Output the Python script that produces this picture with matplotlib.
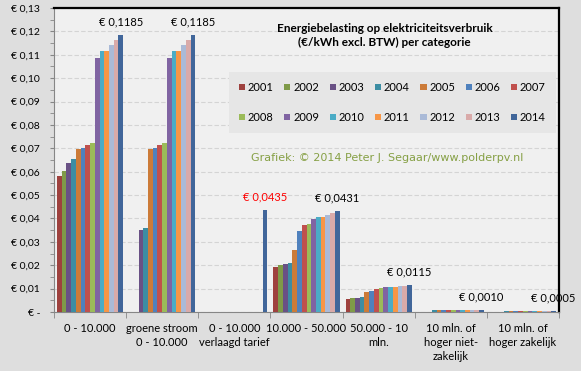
import numpy as np
import matplotlib.pyplot as plt
from matplotlib.ticker import MultipleLocator, FixedLocator, FuncFormatter

plt.rcParams['font.family'] = ['Lato', 'DejaVu Sans']

# Categorieen en jaren
categories = ['0 - 10.000', 'groene stroom\n0 - 10.000', '0 - 10.000\nverlaagd tarief',
              '10.000 - 50.000', '50.000 - 10\nmln.', '10 mln. of\nhoger niet-\nzakelijk',
              '10 mln. of\nhoger zakelijk']
years = [str(y) for y in range(2001, 2015)]

# Tarieven per jaar (kolommen = categorieen)
t_0_10k = [0.0583, 0.0601, 0.0639, 0.0654, 0.0699, 0.0702, 0.0716,
           0.0724, 0.1085, 0.1114, 0.1117, 0.1140, 0.1165, 0.1185]
t_groen = [0, 0, 0.0350, 0.0358, 0.0699, 0.0702, 0.0716,
           0.0724, 0.1085, 0.1114, 0.1117, 0.1140, 0.1165, 0.1185]
t_verlaagd = [0, 0, 0, 0, 0, 0, 0, 0, 0, 0, 0, 0, 0, 0.0435]
t_10k_50k = [0.0194, 0.0200, 0.0207, 0.0210, 0.0263, 0.0345, 0.0370,
             0.0375, 0.0397, 0.0405, 0.0408, 0.0414, 0.0423, 0.0431]
t_50k_10m = [0.0057, 0.0060, 0.0061, 0.0065, 0.0086, 0.0091, 0.0099,
             0.0102, 0.0105, 0.0108, 0.0108, 0.0110, 0.0113, 0.0115]
t_10m_niet = [0, 0, 0, 0.0010, 0.0010, 0.0010, 0.0010,
              0.0010, 0.0010, 0.0010, 0.0010, 0.0010, 0.0010, 0.0010]
t_10m_zak = [0, 0, 0, 0.0005, 0.0005, 0.0005, 0.0005,
             0.0005, 0.0005, 0.0005, 0.0005, 0.0005, 0.0005, 0.0005]

labels_2014 = ['€ 0,1185', '€ 0,1185', '€ 0,0435', '€ 0,0431', '€ 0,0115', '€ 0,0010', '€ 0,0005']
label_colors = ['black', 'black', 'red', 'black', 'black', 'black', 'black']

colors = ['#9E413E', '#7F9A48', '#695185', '#3C8DA3', '#CC7B38', '#4F81BD', '#C0504D',
          '#9BBB59', '#8064A2', '#4BACC6', '#F79646', '#AABAD7', '#D9AAA9', '#41669A']

data = np.array([t_0_10k, t_groen, t_verlaagd, t_10k_50k, t_50k_10m, t_10m_niet, t_10m_zak])

fig = plt.figure(figsize=(5.81, 3.71), dpi=100)
fig.patch.set_facecolor('#dedede')
ax = fig.add_axes([54 / 581, 1 - 312 / 371, 505 / 581, 304 / 371])
ax.set_facecolor('#f0f0f0')

x = np.arange(len(categories))
w = 0.917 / len(years)
for k, yr in enumerate(years):
    ax.bar(x + (k - 6.5) * w, data[:, k], width=w, color=colors[k], label=yr, zorder=3)

# waarde-labels boven de 2014 staaf
for i in range(len(categories)):
    ax.annotate(labels_2014[i], (x[i] + 6.5 * w, data[i, -1]), xytext=(0, 13),
                textcoords='offset pixels', ha='center', va='center',
                fontsize=8, color=label_colors[i], zorder=5)

ax.set_xlim(-0.5, len(categories) - 0.5)
ax.set_ylim(0, 0.13)

ax.yaxis.set_major_locator(MultipleLocator(0.01))
ax.yaxis.set_minor_locator(MultipleLocator(0.005))
ax.yaxis.set_major_formatter(FuncFormatter(
    lambda v, p: '€ -' if abs(v) < 1e-9 else '€ ' + ('%.2f' % v).replace('.', ',')))
ax.tick_params(axis='y', which='both', length=3, color='#868686', labelsize=7.5, pad=7)

ax.set_xticks(x)
ax.set_xticklabels(categories, fontsize=8, linespacing=1.35)
ax.xaxis.set_minor_locator(FixedLocator(np.arange(len(categories) + 1) - 0.5))
ax.tick_params(axis='x', which='major', length=0, pad=8)
ax.tick_params(axis='x', which='minor', length=4, color='#868686')

ax.grid(axis='y', which='major', color='#d4d4d4', linestyle=(0, (4, 2)), linewidth=0.8, zorder=0)

for s in ['left', 'bottom']:
    ax.spines[s].set_color('#868686')
for s in ['top', 'right']:
    ax.spines[s].set_color('black')
    ax.spines[s].set_linewidth(1.6)

ax.text(0.655, 0.95, 'Energiebelasting op elektriciteitsverbruik\n(€/kWh excl. BTW) per categorie',
        transform=ax.transAxes, ha='center', va='top', fontsize=8.5, fontweight='bold',
        linespacing=1.35)

ax.text(0.66, 0.505, 'Grafiek: © 2014 Peter J. Segaar/www.polderpv.nl', transform=ax.transAxes,
        ha='center', va='center', fontsize=8, color='#86A045', family='DejaVu Sans')

# legenda rij voor rij: matplotlib vult kolom voor kolom, dus volgorde omzetten
handles, labs = ax.get_legend_handles_labels()
order = [j for c in range(7) for j in (c, c + 7)]
leg = ax.legend([handles[j] for j in order], [labs[j] for j in order], ncol=7,
                loc='upper left', bbox_to_anchor=((229 - 54) / 505, (312 - 72) / 304),
                fontsize=8, frameon=True, facecolor='#e6e6e6', edgecolor='none', framealpha=1,
                handlelength=0.55, handleheight=0.55, handletextpad=0.25, columnspacing=0.95,
                labelspacing=1.7, borderpad=0.9, borderaxespad=0, fancybox=False)
leg.set_zorder(4)

plt.savefig('out.png', dpi=100, facecolor=fig.get_facecolor())
